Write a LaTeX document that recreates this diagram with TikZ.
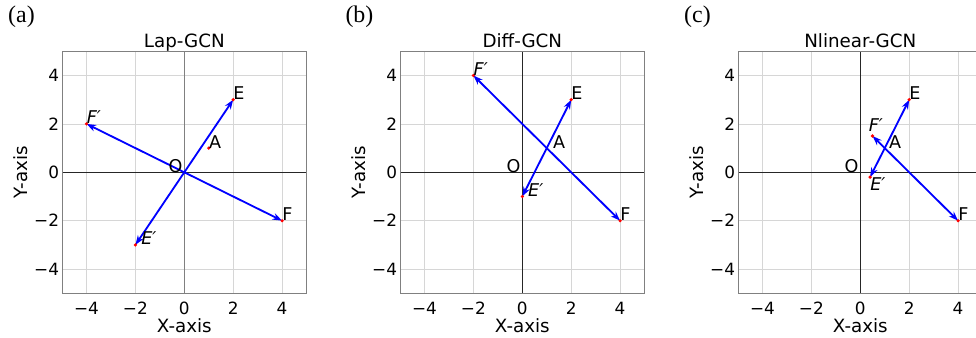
\documentclass[tikz,border=0pt]{standalone}
\usepackage{fontspec}
\setmainfont{DejaVu Sans}
\newfontfamily\tagfont{Liberation Serif}
\usetikzlibrary{arrows.meta}

\begin{document}
\begin{tikzpicture}[
  x=0.61125cm, y=0.605cm,
  gridline/.style={draw=black!16, line width=0.45pt},
  zeroaxis/.style={draw=black!85, line width=0.6pt},
  frame/.style={draw=black!50, line width=0.6pt},
  ticklab/.style={font=\fontsize{12}{14}\selectfont, inner sep=0pt},
  axlab/.style={font=\fontsize{13}{15}\selectfont, inner sep=0pt},
  tag/.style={font=\tagfont\fontsize{17}{20}\selectfont, inner sep=0pt},
  ptlab/.style={font=\fontsize{12.5}{15}\selectfont, inner sep=0pt, anchor=base west},
  ptdot/.style={fill=red},
  vec/.style={-{Stealth[length=2.4mm, width=1.7mm]}, draw=blue, line width=1.3pt},
]
  \useasboundingbox (-7.538,-6.806) rectangle (32.38,7.12);

  % axes, grid and labels of the three panels
  \foreach \pan/\sx/\ttl/\vcol in {a/0/Lap-GCN/black!50, b/13.824/Diff-GCN/black!85, c/27.648/Nlinear-GCN/black!85} {
    \begin{scope}[shift={(\sx,0)}]
      \foreach \g in {-4,-2,...,4} {
        \draw[gridline] (\g,-5) -- (\g,5);
        \draw[gridline] (-5,\g) -- (5,\g);
      }
      \draw[zeroaxis, draw=\vcol] (0,-5) -- (0,5);
      \draw[zeroaxis] (-5,0) -- (5,0);
      \draw[frame] (-5,-5) rectangle (5,5);
      \foreach \t/\tl [count=\k] in {-4/−4, -2/−2, 0/0, 2/2, 4/4} {
        \node[ticklab, anchor=north] (\pan-xt\k) at (\t,-5.36) {\tl};
        \node[ticklab, anchor=east] (\pan-yt\k) at (-5.11,\t) {\tl};
      }
      \node[axlab, anchor=base] (\pan-title) at (0,5.165) {\ttl};
      \node[axlab, anchor=north] (\pan-xlab) at (0,-6.02) {X-axis};
      \node[axlab, rotate=90, anchor=south] (\pan-ylab) at (-6.39,0) {Y-axis};
      \node[tag] (\pan-tag) at (-6.66,6.43) {(\pan)};
    \end{scope}
  }

  % (a) Lap-GCN
  \begin{scope}
    \coordinate (aO) at (0,0);
    \coordinate (aA) at (1,1);
    \coordinate (aE) at (2,3);
    \coordinate (aF) at (4,-2);
    \coordinate (aEp) at (-2,-3);
    \coordinate (aFp) at (-4,2);
    \foreach \p in {aE,aF,aEp,aFp}
      \draw[vec] (aO) -- (\p);
    \foreach \p in {aA,aE,aF,aEp,aFp}
      \fill[ptdot] (\p) circle (0.45mm);
    \node[ptlab, anchor=base east, xshift=-0.4mm] (aOlab) at (aO) {O};
    \node[ptlab] (aAlab) at (aA) {A};
    \node[ptlab] (aElab) at (aE) {E};
    \node[ptlab] (aFlab) at (aF) {F};
    \node[ptlab, xshift=1.4mm] (aEplab) at (aEp) {\itshape E′};
    \node[ptlab] (aFplab) at (aFp) {\itshape F′};
  \end{scope}

  % (b) Diff-GCN
  \begin{scope}[shift={(13.824,0)}]
    \coordinate (bO) at (0,0);
    \coordinate (bA) at (1,1);
    \coordinate (bE) at (2,3);
    \coordinate (bF) at (4,-2);
    \coordinate (bEp) at (0,-1);
    \coordinate (bFp) at (-2,4);
    \foreach \p in {bE,bF,bEp,bFp}
      \draw[vec] (bA) -- (\p);
    \foreach \p in {bE,bF,bEp,bFp}
      \fill[ptdot] (\p) circle (0.45mm);
    \node[ptlab, anchor=base east, xshift=-0.4mm] (bOlab) at (bO) {O};
    \node[ptlab, xshift=1.5mm] (bAlab) at (bA) {A};
    \node[ptlab] (bElab) at (bE) {E};
    \node[ptlab] (bFlab) at (bF) {F};
    \node[ptlab, xshift=1.4mm] (bEplab) at (bEp) {\itshape E′};
    \node[ptlab] (bFplab) at (bFp) {\itshape F′};
  \end{scope}

  % (c) Nlinear-GCN
  \begin{scope}[shift={(27.648,0)}]
    \coordinate (cO) at (0,0);
    \coordinate (cA) at (1,1);
    \coordinate (cE) at (2,3);
    \coordinate (cF) at (4,-2);
    \coordinate (cEp) at (0.4,-0.2);
    \coordinate (cFp) at (0.5,1.5);
    \foreach \p in {cE,cF,cEp,cFp}
      \draw[vec] (cA) -- (\p);
    \foreach \p in {cE,cF,cEp,cFp}
      \fill[ptdot] (\p) circle (0.45mm);
    \node[ptlab, anchor=base east, xshift=-0.4mm] (cOlab) at (cO) {O};
    \node[ptlab, xshift=1mm] (cAlab) at (cA) {A};
    \node[ptlab] (cElab) at (cE) {E};
    \node[ptlab] (cFlab) at (cF) {F};
    \node[ptlab, yshift=-3.3mm] (cEplab) at (cEp) {\itshape E′};
    \node[ptlab, xshift=-1mm, yshift=1mm] (cFplab) at (cFp) {\itshape F′};
  \end{scope}
\end{tikzpicture}
\end{document}
